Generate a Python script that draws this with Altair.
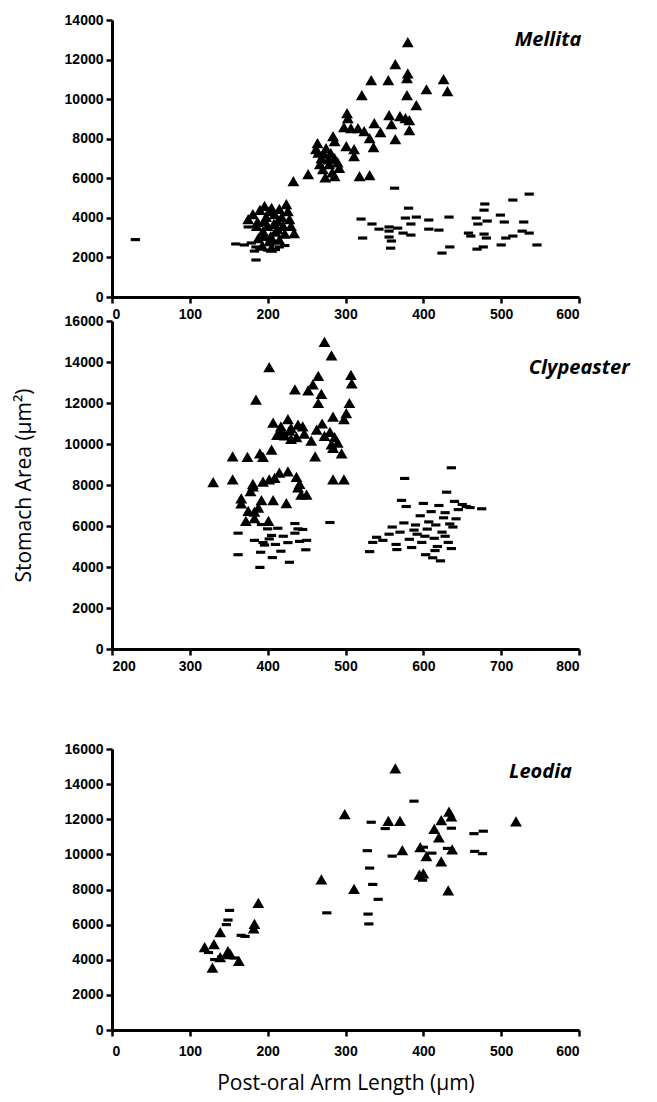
import altair as alt
import pandas as pd

# ---------------- Mellita ----------------
mel_tri_x = [380, 364, 380, 379, 333, 355, 426, 404, 431, 321, 379, 391, 302, 303, 356, 370, 377, 382, 359, 337,
             298, 307, 316, 324, 345, 382, 331, 364, 284, 286, 264, 301, 311, 311, 336, 262, 275, 281, 269, 286,
             267, 279, 292, 252, 271, 286, 318, 331, 233, 272, 278, 265, 290, 283, 274,
             181, 175, 196, 202, 224, 226, 209, 213, 228, 196, 200, 220, 234, 194, 204, 202, 213, 188,
             190, 205, 215, 198, 208, 218, 186, 195, 210, 222, 230, 193, 205, 215, 187]
mel_tri_y = [12880, 11770, 11300, 11060, 10960, 10960, 11010, 10500, 10400, 10200, 10200, 9700, 9290, 9040, 9190,
             9140, 9040, 8940, 8740, 8790, 8590, 8540, 8540, 8380, 8330, 8430, 8030, 7980, 8130, 7880, 7780, 7630,
             7470, 7120, 7580, 7470, 7530, 7270, 7020, 7020, 6720, 6720, 6520, 6210, 6460, 6110, 6110, 6160, 5860,
             7250, 6950, 7300, 6800, 6300, 6050,
             4190, 3940, 4600, 4340, 4700, 4340, 4190, 3840, 3940, 3840, 3590, 3590, 3230, 3330, 3080, 2830, 3430,
             2980, 4400, 4500, 4450, 4050, 3700, 4050, 3600, 3100, 3300, 3200, 3600, 2600, 2500, 2900, 3800]
mel_dash_x = [30, 175, 159, 179, 185, 183, 200, 215, 185, 195, 170, 190, 210, 222, 205,
              363, 381, 320, 334, 343, 356, 356, 356, 359, 358, 322, 367, 374, 384, 377, 391, 384, 407, 407, 420,
              433, 434, 424, 479, 478, 468, 470, 482, 458, 461, 478, 481, 469, 477, 499, 504, 500, 506, 515, 536,
              515, 529, 527, 536, 546]
mel_dash_y = [2900, 3540, 2680, 2730, 2530, 2320, 2370, 2530, 1870, 2930, 2630, 2450, 2400, 2600, 2750,
              5500, 4490, 3940, 3690, 3430, 3540, 3330, 3030, 2830, 2470, 2980, 3480, 3230, 3130, 3990, 4040, 3690,
              3890, 3430, 3380, 4040, 2530, 2220, 4700, 4390, 3990, 3690, 3840, 3230, 3080, 3180, 2980, 2420, 2530,
              4140, 3790, 2630, 2980, 4900, 5200, 3080, 3790, 3330, 3230, 2630]

# ---------------- Clypeaster ----------------
cly_tri_x = [473, 482, 402, 465, 507, 508, 435, 458, 452, 469, 465, 385, 505, 501, 498, 484, 407, 426, 417, 430,
             439, 445, 422, 430, 437, 447, 456, 480, 486, 482, 490, 484, 495, 417, 355, 374, 390, 394, 405, 461,
             330, 355, 381, 394, 402, 409, 426, 437, 441, 484, 498, 381, 439, 450, 366, 392, 407, 424, 375, 383,
             372, 383, 401, 443, 366, 463, 473, 470, 428, 412, 415, 388, 378]
cly_tri_y = [14980, 14320, 13750, 13320, 13370, 12960, 12670, 12910, 12610, 12440, 12000, 12170, 12000, 11510, 11210,
             11330, 11040, 11210, 10860, 10770, 10950, 10860, 10420, 10250, 10330, 10510, 10160, 10590, 10330, 9980,
             10070, 9810, 9540, 10590, 9400, 9370, 9540, 9370, 9720, 9400, 8140, 8280, 8050, 8170, 8280, 8350, 8670,
             8400, 8050, 8280, 8280, 7930, 7880, 7530, 7350, 7260, 7260, 7120, 6740, 6700, 6250, 6390, 6250, 7530,
             7100, 10700, 10400, 11000, 10650, 10450, 8600, 6900, 7700]
cly_dash_x = [480, 362, 392, 400, 413, 435, 439, 445, 435, 405, 402, 383, 394, 426, 441, 450, 396, 362, 391, 417,
              406, 449, 428, 390, 420, 410,
              531, 576, 636, 675, 535, 540, 548, 556, 560, 565, 570, 572, 578, 575, 582, 585, 590, 592, 596, 598,
              600, 603, 605, 607, 610, 612, 614, 616, 618, 620, 622, 624, 626, 628, 630, 632, 634, 636, 638, 640,
              642, 645, 650, 655, 660, 566, 588, 602, 615, 628]
cly_dash_y = [6170, 5650, 6070, 5860, 5890, 6120, 5860, 5830, 5650, 5540, 5370, 5300, 5190, 5190, 5250, 5300, 5070,
              4600, 4720, 4770, 4460, 4840, 4230, 3980, 5500, 5100,
              4750, 8320, 8840, 6840, 5200, 5450, 5300, 5600, 5950, 5100, 5700, 7250, 6950, 6150, 5350, 4950, 6050,
              5600, 6500, 5200, 7100, 4600, 5850, 6200, 6700, 4450, 5400, 6050, 5000, 7000, 4300, 5700, 6400, 6650,
              7650, 5200, 6100, 4900, 5950, 7200, 6350, 6800, 7050, 6950, 6900, 4850, 5800, 5500, 4800, 5500]

# ---------------- Leodia ----------------
leo_tri_x = [364, 299, 355, 370, 433, 436, 423, 414, 420, 373, 396, 404, 437, 423, 395, 400, 432, 519, 269, 311,
             188, 119, 131, 139, 129, 139, 149, 152, 163, 183, 182]
leo_tri_y = [14900, 12290, 11910, 11910, 12430, 12170, 11950, 11450, 10970, 10240, 10410, 9900, 10290, 9600, 8840,
             8920, 7950, 11880, 8580, 8030, 7240, 4720, 4890, 5570, 3550, 4150, 4490, 4320, 3930, 6040, 5780]
leo_dash_x = [388, 333, 351, 436, 465, 477, 328, 360, 400, 411, 431, 466, 476, 331, 399, 335, 342, 276, 329, 330,
              151, 149, 147, 166, 171, 124, 132, 141, 157]
leo_dash_y = [13030, 11830, 11470, 11490, 11180, 11320, 10210, 9900, 10410, 10070, 10340, 10170, 10040, 9220, 8530,
              8290, 7440, 6670, 6600, 6040, 6810, 6260, 6000, 5390, 5330, 4410, 4010, 4150, 4100]

species = ["Mellita", "Clypeaster", "Leodia"]
label_x = [603, 865, 591]
label_y = [13000, 13700, 14700]

DASH = "M-1,-0.34L1,-0.34L1,0.34L-1,0.34Z"
LABEL_FONT = "Liberation Sans"


def panel(tx, ty, dx, dy, xdom, xvals, ydom, yvals, name, lx, ly, w, h, xtitle=None, ytitle=None, xpad=4):
    tri = pd.DataFrame({"x": tx, "y": ty})
    dash = pd.DataFrame({"x": dx, "y": dy})
    lab = pd.DataFrame({"x": [lx], "y": [ly], "t": [name]})

    xax = dict(values=xvals, format="d", labelOverlap=False, labelPadding=xpad)
    yax = dict(values=yvals, format="d", labelOverlap=False)
    if xtitle:
        xax.update(title=xtitle, titlePadding=14)
    else:
        xax.update(title=None)
    if ytitle:
        yax.update(title=ytitle, titlePadding=30)
    else:
        yax.update(title=None)

    X = alt.X("x:Q", scale=alt.Scale(domain=xdom, nice=False, zero=False), axis=alt.Axis(**xax))
    Y = alt.Y("y:Q", scale=alt.Scale(domain=ydom, nice=False, zero=False), axis=alt.Axis(**yax))

    t = alt.Chart(tri).mark_point(shape="triangle-up", filled=True, size=140, color="black", opacity=1).encode(x=X, y=Y)
    d = alt.Chart(dash).mark_point(shape=DASH, filled=True, size=85, color="black", opacity=1).encode(x=X, y=Y)
    txt = alt.Chart(lab).mark_text(align="right", baseline="middle", font="Open Sans", fontStyle="italic",
                                   fontWeight="bold", fontSize=20, color="black").encode(x=X, y=Y, text="t:N")
    return alt.layer(t, d, txt).properties(width=w, height=h)


p1 = panel(mel_tri_x, mel_tri_y, mel_dash_x, mel_dash_y, [0, 600], list(range(0, 601, 100)),
           [0, 14000], list(range(0, 14001, 2000)), species[0], label_x[0], label_y[0], 467, 277)
p2 = panel(cly_tri_x, cly_tri_y, cly_dash_x, cly_dash_y, [200, 800], list(range(200, 801, 100)),
           [0, 16000], list(range(0, 16001, 2000)), species[1], label_x[1], label_y[1], 467, 328,
           ytitle="Stomach Area (μm²)")
p3 = panel(leo_tri_x, leo_tri_y, leo_dash_x, leo_dash_y, [0, 600], list(range(0, 601, 100)),
           [0, 16000], list(range(0, 16001, 2000)), species[2], label_x[2], label_y[2], 467, 281,
           xtitle="Post-oral Arm Length (μm)", xpad=8)

top = alt.vconcat(p1, p2, spacing=24, bounds="flush")
chart = alt.vconcat(top, p3, spacing=69).configure_view(strokeWidth=0).configure_axis(
    domainColor="black", domainWidth=3, tickColor="black", tickWidth=2.5, tickSize=6,
    labelFont=LABEL_FONT, labelFontWeight="bold", labelFontSize=14, labelColor="black", labelPadding=3,
    labelOverlap=False, grid=False, titleFont="Open Sans", titleFontWeight="normal", titleFontSize=21,
    titleColor="black"
)

chart.save("out.html", embed_options={"renderer": "svg", "actions": False})
